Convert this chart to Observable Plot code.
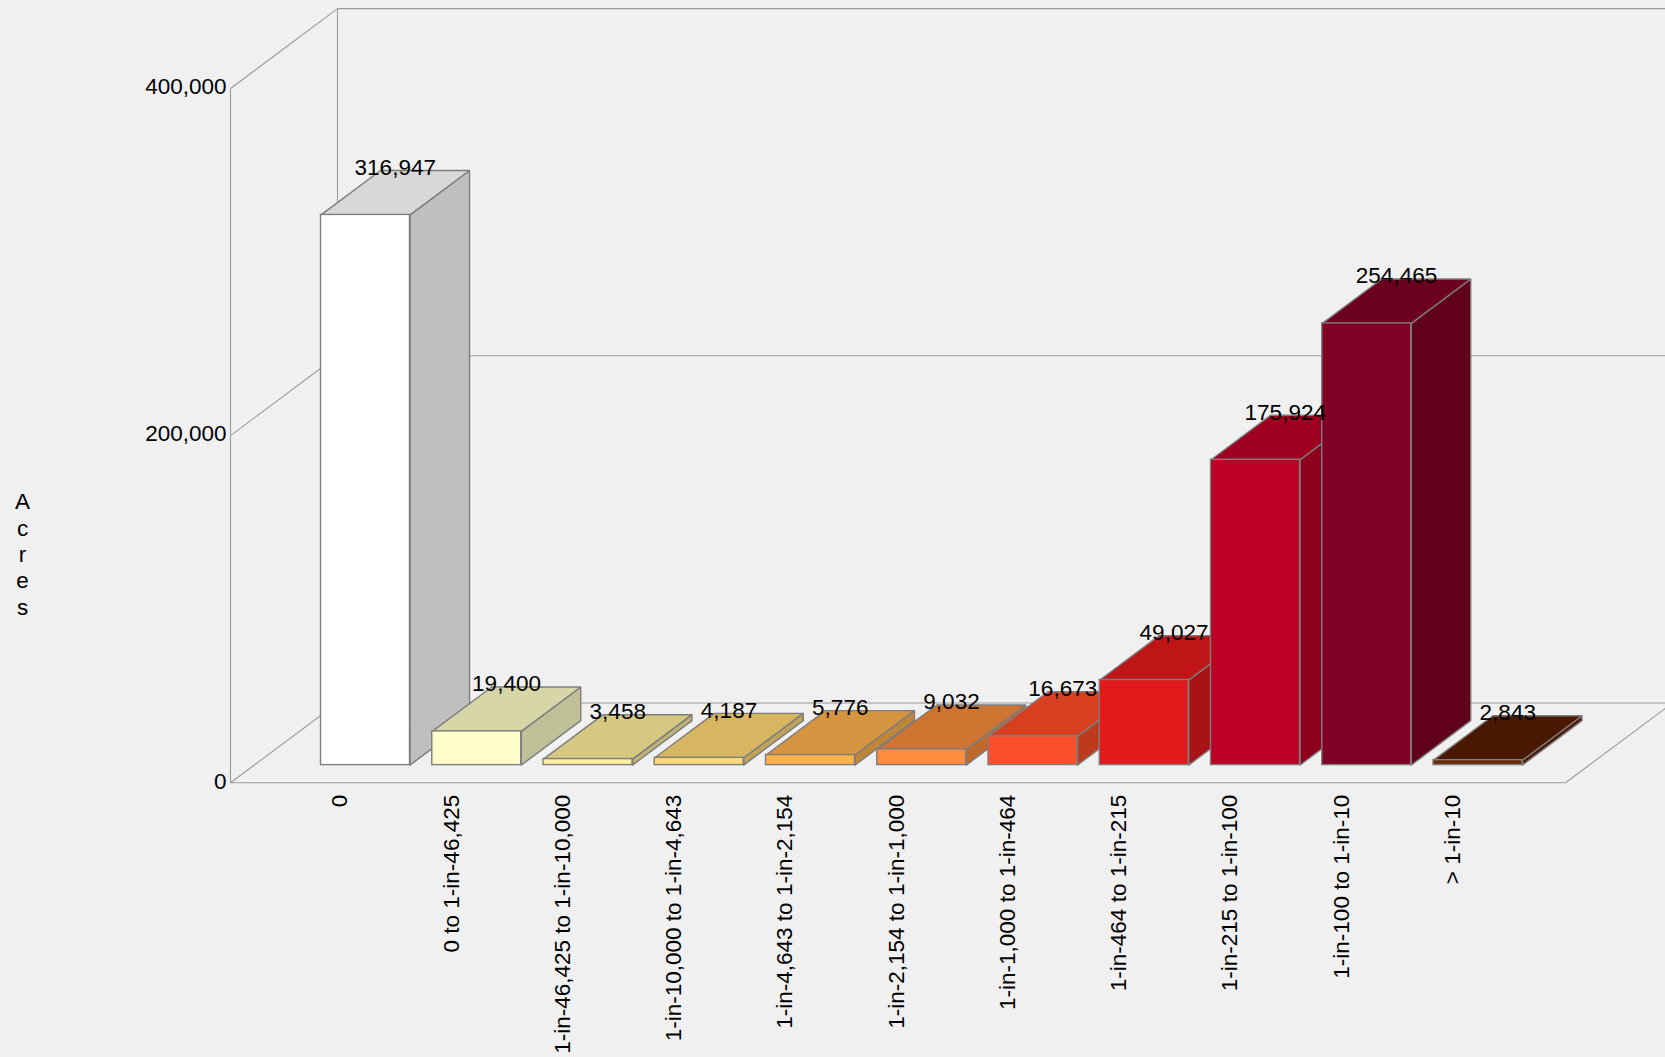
<!DOCTYPE html>
<html>
<head>
<meta charset="utf-8">
<style>
html,body{margin:0;padding:0;background:#f0f0f0;overflow:hidden}
svg{display:block}
</style>
<script src="https://cdn.jsdelivr.net/npm/d3@7"></script>
<script src="https://cdn.jsdelivr.net/npm/@observablehq/plot@0.6"></script>
</head>
<body>
<div id="chart"></div>
<script>
const categories = ["0","0 to 1-in-46,425","1-in-46,425 to 1-in-10,000","1-in-10,000 to 1-in-4,643","1-in-4,643 to 1-in-2,154","1-in-2,154 to 1-in-1,000","1-in-1,000 to 1-in-464","1-in-464 to 1-in-215","1-in-215 to 1-in-100","1-in-100 to 1-in-10","> 1-in-10"];
const acres = [316947,19400,3458,4187,5776,9032,16673,49027,175924,254465,2843];
const frontColors = ["#ffffff","#ffffcc","#ffeda0","#fed976","#feb24c","#fd8d3c","#fc4e2a","#e31a1c","#bd0026","#800026","#6b2a08"];
const topColors = ["#d8d8d8","#d6d6a8","#d6c880","#d6b660","#d49440","#cc7430","#d64020","#c01516","#9f0020","#6b0020","#4a1800"];
const sideColors = ["#bfbfbf","#bfbf98","#bfb278","#bfa258","#bf8638","#be6a2c","#bd3a1f","#aa1315","#8e001c","#60001c","#4a1800"];
const yTicks = [0,200000,400000];

// Oblique projection of the chart's floor depth (0 = front, 1 = back) into data units
const depthX = 0.962, depthY = 46000;
const halfBar = 0.4, barFront = 0.222, barBack = 0.778;
const px = (x, d) => x + depthX * d;
const py = (v, d) => v + depthY * d;
const edge = (x1, v1, d1, x2, v2, d2) => ({x1: px(x1, d1), y1: py(v1, d1), x2: px(x2, d2), y2: py(v2, d2)});

const xLo = -1, xHi = 11, yHi = 400000;
const frame = [
  edge(xLo, 0, 0, xLo, yHi, 0),
  edge(xLo, 0, 1, xLo, yHi, 1),
  edge(xLo, yHi, 0, xLo, yHi, 1),
  edge(xLo, 200000, 0, xLo, 200000, 1),
  edge(xLo, 0, 0, xLo, 0, 1),
  edge(xLo, yHi, 1, xHi, yHi, 1),
  edge(xLo, 200000, 1, xHi, 200000, 1),
  edge(xLo, 0, 1, xHi, 0, 1),
  edge(xHi, 0, 0, xHi, 0, 1),
  edge(xLo, 0, 0, xHi, 0, 0)
];

const edgeColor = "#7d7d7d";
const poly = (pts, fill) => Plot.line(pts, {x: "x", y: "y", fill, stroke: edgeColor, strokeWidth: 1.4, strokeLinejoin: "miter"});
const pt = (x, v, d) => ({x: px(x, d), y: py(v, d)});

const barMarks = categories.flatMap((c, i) => {
  const l = i - halfBar, r = i + halfBar, v = acres[i];
  return [
    poly([pt(r,0,barFront), pt(r,0,barBack), pt(r,v,barBack), pt(r,v,barFront), pt(r,0,barFront)], sideColors[i]),
    poly([pt(l,v,barFront), pt(l,v,barBack), pt(r,v,barBack), pt(r,v,barFront), pt(l,v,barFront)], topColors[i]),
    Plot.rect([c], {
      x1: px(l, barFront), x2: px(r, barFront),
      y1: py(0, barFront), y2: py(v, barFront),
      fill: frontColors[i], stroke: edgeColor, strokeWidth: 1.4
    })
  ];
});

const plot = Plot.plot({
  width: 1665,
  height: 1057,
  marginLeft: 230,
  marginRight: 100,
  marginTop: 88,
  marginBottom: 274.7,
  style: {background: "#f0f0f0", fontFamily: "'Liberation Sans', Arial, sans-serif", fontSize: "22.5px", color: "#000", overflow: "hidden"},
  x: {domain: [xLo, xHi]},
  y: {domain: [0, yHi]},
  marks: [
    Plot.link(frame, {x1: "x1", y1: "y1", x2: "x2", y2: "y2", stroke: "#9a9a9a", strokeWidth: 1.1}),
    ...barMarks,
    Plot.axisY({ticks: yTicks, tickFormat: d3.format(","), tickSize: 0, tickPadding: 4, dy: -1.5, label: null, fontSize: 22.5}),
    Plot.axisX({ticks: categories.map((c, i) => i), tickFormat: i => categories[i], tickRotate: -90, tickSize: 0, tickPadding: 12, dx: -1.5, label: null, fontSize: 22.5}),
    Plot.text(acres, {
      x: (d, i) => px(i, 0.5),
      y: d => py(d, barBack),
      text: d => d3.format(",")(d),
      dy: -3, fontSize: 22.5, fill: "#000"
    }),
    Plot.text(["A\nc\nr\ne\ns"], {x: xLo, y: 132000, dx: -208, fontSize: 22.5, lineHeight: 1.17, fill: "#000"})
  ]
});
document.getElementById("chart").append(plot);
</script>
</body>
</html>
